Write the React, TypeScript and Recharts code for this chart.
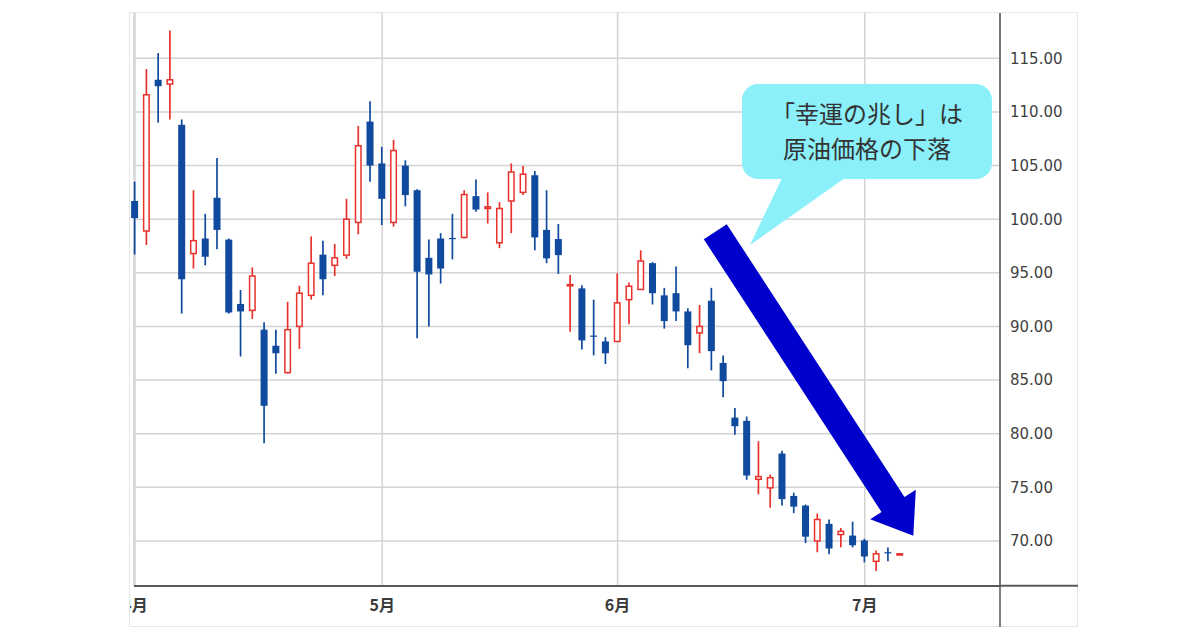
import { Bar, CartesianGrid, ComposedChart, XAxis, YAxis } from "recharts";

// daily candles, left to right
const opens = [
  101.7, 98.9, 113.0, 112.6, 108.8, 96.8, 98.2, 102.0, 98.1, 92.1, 91.5, 89.7, 88.2,
  85.7, 90.0, 92.9, 96.7, 95.7, 96.65, 99.7, 109.1, 105.2, 99.7, 105.0, 102.7, 96.4,
  98.2, 98.25, 98.3, 102.15, 101.0, 97.8, 101.7, 102.5, 104.1, 99.0, 98.15, 93.8, 93.55,
  89.15, 88.6, 88.6, 92.5, 93.45, 95.9, 92.9, 93.1, 91.4, 89.4, 92.4, 86.6, 81.5, 81.2,
  75.75, 74.95, 78.15, 74.2, 73.3, 70.0, 71.6, 70.6, 70.5, 70.05, 68.1, 68.95, 68.8,
];
const highs = [
  103.5, 114.0, 115.5, 117.6, 109.3, 102.7, 100.5, 105.7, 98.2, 93.4, 95.5, 90.4, 89.7,
  92.3, 93.8, 98.4, 98.0, 97.7, 101.9, 108.7, 111.0, 106.75, 107.4, 105.5, 102.8, 98.1,
  98.7, 100.5, 102.7, 103.7, 102.5, 101.6, 105.2, 104.95, 104.5, 102.7, 99.55, 94.8, 93.85,
  92.5, 89.0, 94.95, 94.1, 97.1, 96.0, 93.6, 95.6, 91.7, 92.0, 93.6, 87.3, 82.4, 81.6,
  79.3, 76.2, 78.4, 74.5, 73.4, 72.55, 72.0, 71.2, 71.8, 70.2, 69.1, 69.4, 68.82,
];
const lows = [
  96.7, 97.6, 109.0, 109.3, 91.2, 95.4, 95.7, 97.2, 91.2, 87.2, 90.7, 79.1, 85.6,
  85.6, 87.9, 92.5, 92.9, 94.7, 96.3, 98.6, 103.5, 99.45, 99.3, 101.2, 88.9, 90.0,
  94.0, 96.25, 98.2, 100.7, 99.6, 97.3, 98.7, 102.25, 97.1, 95.9, 94.9, 89.5, 87.85,
  87.3, 86.5, 88.6, 90.2, 93.4, 92.05, 89.8, 90.5, 86.1, 87.5, 85.9, 83.4, 79.9, 75.7,
  74.35, 73.1, 73.3, 72.6, 69.8, 68.95, 68.75, 69.4, 69.4, 68.0, 67.2, 68.1, 68.78,
];
const closes = [
  100.1, 111.6, 112.4, 113.0, 94.4, 98.0, 96.5, 99.0, 91.3, 91.4, 94.7, 82.6, 87.5,
  89.7, 93.1, 95.9, 94.4, 96.4, 100.0, 106.85, 105.0, 101.9, 106.4, 102.25, 95.1, 94.85,
  95.4, 98.15, 102.3, 100.9, 101.15, 101.0, 104.4, 104.2, 98.3, 96.35, 96.65, 93.9, 88.7,
  89.05, 87.5, 92.2, 93.75, 96.1, 93.1, 90.5, 91.4, 88.25, 90.0, 87.7, 84.9, 80.7, 76.1,
  76.0, 75.9, 73.9, 73.2, 70.4, 72.0, 69.3, 70.9, 69.6, 68.55, 68.8, 68.85, 68.8,
];

const monthTicks = [0, 21, 41, 62];
const monthLabels = ["4月", "5月", "6月", "7月"];
const priceTicks = [70, 75, 80, 85, 90, 95, 100, 105, 110, 115];

const data = opens.map((open, i) => ({
  i,
  open,
  high: highs[i],
  low: lows[i],
  close: closes[i],
}));

const RED = "#e8322b";
const BLUE = "#0f4a9e";

const Candle = (props: any) => {
  const { x, y, width, height, payload } = props;
  if (x == null || y == null || !payload) return null;
  const { open, close, high, low } = payload;
  const top = Math.min(y, y + height);
  const h = Math.abs(height);
  const py = (v: number) => top + (h * (high - v)) / (high - low);
  const up = close >= open;
  const color = up ? RED : BLUE;
  const cx = x + width / 2;
  const bTop = py(Math.max(open, close));
  const bH = Math.max(py(Math.min(open, close)) - bTop, 1.2);
  return (
    <g>
      <line x1={cx} x2={cx} y1={top} y2={top + h} stroke={color} strokeWidth={1.7} />
      {up ? (
        <rect x={x + 0.75} y={bTop} width={width - 1.5} height={bH} fill="#fff" stroke={color} strokeWidth={1.5} />
      ) : (
        <rect x={x} y={bTop} width={width} height={bH} fill={color} />
      )}
    </g>
  );
};

export default function App() {
  return (
    <div style={{ position: "absolute", left: 0, top: 0, width: 1200, height: 630, background: "#fff" }}>
      <div style={{ position: "absolute", left: 129, top: 12, width: 949, height: 615, overflow: "hidden" }}>
        <ComposedChart width={949} height={615} data={data} margin={{ top: 0, right: 0, bottom: 0, left: 5 }}>
          <CartesianGrid stroke="#d3d3d3" strokeWidth={1.5} />
          <XAxis
            dataKey="i"
            type="number"
            domain={[-0.085, 73.49]}
            ticks={monthTicks}
            interval={0}
            tickFormatter={(v) => monthLabels[monthTicks.indexOf(v)]}
            height={41}
            tickLine={false}
            tickMargin={8}
            axisLine={{ stroke: "#5a5a5a", strokeWidth: 2 }}
            tick={{ fill: "#3a3a3a", fontSize: 16, fontWeight: "bold", fontFamily: "Noto Sans CJK JP" }}
          />
          <YAxis
            orientation="right"
            domain={[65.8, 119.32]}
            ticks={priceTicks}
            width={78}
            tickLine={false}
            tickMargin={4}
            tickFormatter={(v) => v.toFixed(2)}
            axisLine={{ stroke: "#555", strokeWidth: 1.5 }}
            tick={{ fill: "#3f3f3f", fontSize: 15, fontFamily: "DejaVu Sans" }}
          />
          <YAxis
            yAxisId="left"
            orientation="left"
            width={0}
            domain={[65.8, 119.32]}
            tick={false}
            tickLine={false}
            axisLine={{ stroke: "#9a9a9a", strokeWidth: 1.5 }}
          />
          <Bar dataKey={(d: any) => [d.low, d.high]} barSize={7} shape={Candle} isAnimationActive={false} />
        </ComposedChart>
      </div>
      <div
        style={{
          position: "absolute",
          left: 129,
          top: 12,
          width: 949,
          height: 615,
          border: "1px solid #e6e6e6",
          boxSizing: "border-box",
          pointerEvents: "none",
        }}
      />
      <svg width={1200} height={630} style={{ position: "absolute", left: 0, top: 0, pointerEvents: "none" }}>
        <line x1={1000} x2={1078} y1={585.7} y2={585.7} stroke="#5a5a5a" strokeWidth={2} />
        <line x1={1000} x2={1000} y1={585} y2={627} stroke="#555" strokeWidth={1.5} />
        <rect x={742} y={84} width={250} height={95} rx={16} fill="#8bf0fa" />
        <polygon points="782,178 845,178 750,245" fill="#8bf0fa" />
        <text x={867} y={112} textAnchor="middle" dominantBaseline="central" fontSize={24} fill="#333" fontFamily="Noto Sans CJK JP">
          「幸運の兆し」は
        </text>
        <text x={867} y={147} textAnchor="middle" dominantBaseline="central" fontSize={24} fill="#333" fontFamily="Noto Sans CJK JP">
          原油価格の下落
        </text>
        <polygon
          points="703.8,239.2 726.8,224.2 904.5,497 915.8,489.7 913.3,535.8 870.2,519.3 881.5,512"
          fill="#0000cd"
        />
      </svg>
    </div>
  );
}
